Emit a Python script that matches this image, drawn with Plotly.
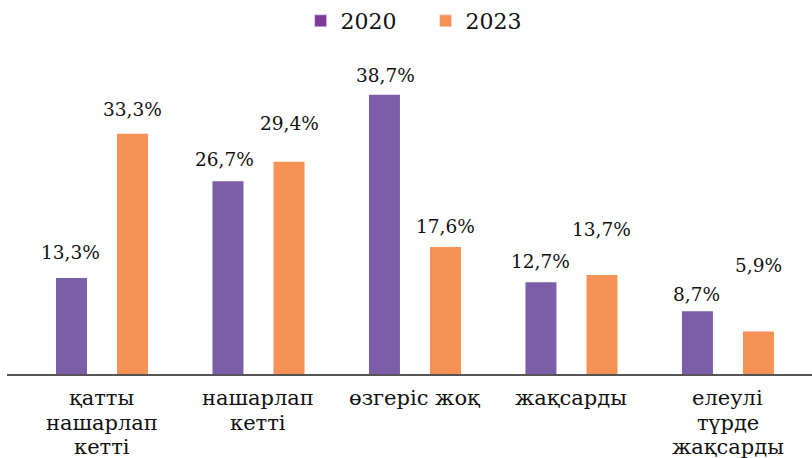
import plotly.graph_objects as go

categories = ["қатты\nнашарлап\nкетті", "нашарлап\nкетті", "өзгеріс жоқ", "жақсарды", "елеулі\nтүрде\nжақсарды"]
values_2020 = [13.3, 26.7, 38.7, 12.7, 8.7]
values_2023 = [33.3, 29.4, 17.6, 13.7, 5.9]
series_names = ["2020", "2023"]

# label placement above each bar (pixels up from bar top)
lift_2020 = [24, 20, 17, 19, 15]
lift_2023 = [22, 36, 18, 44, 64]
nudge_2020 = [-1, -3, 1, 0, -1]

bar_colors = ["#7B5EA7", "#F79256"]
legend_colors = ["#7E3C98", "#F79256"]
FONT = "DejaVu Serif"
TEXT = "#111111"

x_idx = list(range(len(categories)))
bar_w = 0.198
offsets = [-0.294, 0.096]

fig = go.Figure()
for vals, off, col in zip([values_2020, values_2023], offsets, bar_colors):
    fig.add_trace(go.Bar(x=x_idx, y=vals, width=bar_w, offset=off,
                         marker=dict(color=col, line=dict(width=0)),
                         showlegend=False, hoverinfo="skip"))
# legend entries
for name, col in zip(series_names, legend_colors):
    fig.add_trace(go.Bar(x=[None], y=[None], name=name, marker=dict(color=col)))


def fmt(v):
    return f"{v:.1f}".replace(".", ",") + "%"


annotations = []
for vals, off, lifts, nudges in [(values_2020, offsets[0], lift_2020, nudge_2020),
                                 (values_2023, offsets[1], lift_2023, [0] * 5)]:
    for i, v in enumerate(vals):
        annotations.append(dict(x=i + off + bar_w / 2, y=v, xref="x", yref="y",
                                text=fmt(v), showarrow=False,
                                yanchor="middle", xanchor="center",
                                yshift=lifts[i] + 2, xshift=nudges[i],
                                font=dict(family=FONT, size=18.5, color=TEXT)))

# category labels, one line at a time for tighter line spacing
LINE_STEP = 24.5
for i, cat in enumerate(categories):
    for k, line in enumerate(cat.split("\n")):
        annotations.append(dict(x=i, y=0, xref="x", yref="paper", text=line,
                                showarrow=False, xanchor="center", yanchor="middle",
                                yshift=-24 - k * LINE_STEP,
                                font=dict(family=FONT, size=21, color=TEXT)))

fig.update_layout(
    width=812, height=458,
    margin=dict(l=7, r=0, t=40, b=84),
    paper_bgcolor="white", plot_bgcolor="white",
    barmode="overlay",
    annotations=annotations,
    legend=dict(orientation="h", x=0.52, xanchor="center", y=1.0, yanchor="bottom",
                font=dict(family=FONT, size=22, color=TEXT),
                entrywidth=80, itemwidth=30, tracegroupgap=0),
    xaxis=dict(tickmode="array", tickvals=x_idx, showticklabels=False,
               range=[-0.607, 4.537], showgrid=False, zeroline=False,
               showline=True, linecolor="#555555", linewidth=2, ticks=""),
    yaxis=dict(range=[0, 46.0], visible=False, showgrid=False, zeroline=False),
)

fig.write_html("out.html")
